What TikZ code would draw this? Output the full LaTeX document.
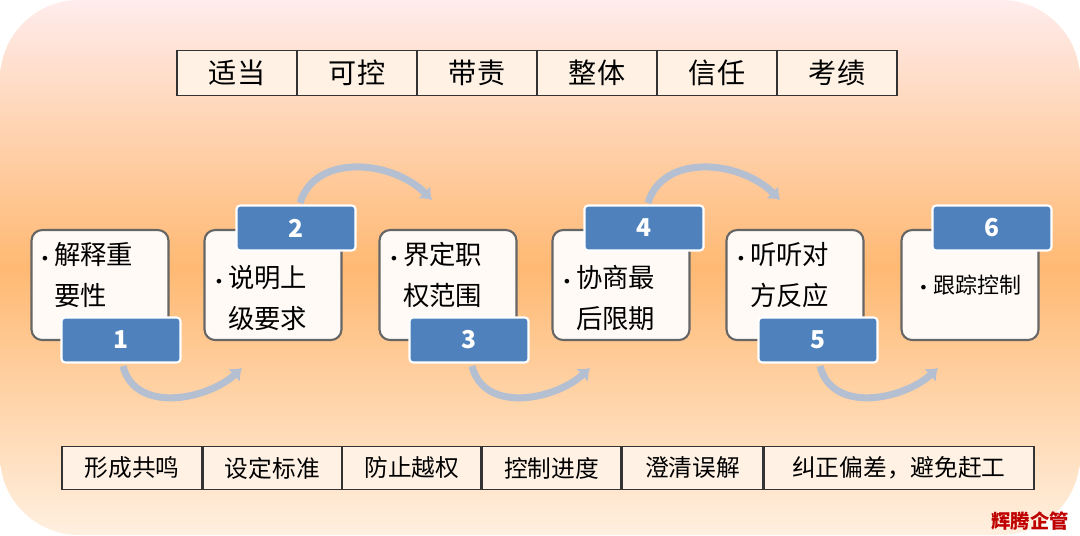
\documentclass[tikz,border=0pt]{standalone}
\usepackage{fontspec}
\setmainfont{Noto Sans CJK SC}
\newfontfamily\dotfont{DejaVu Sans}
\usetikzlibrary{positioning,arrows.meta}
\definecolor{tabblue}{HTML}{4F81BD}
\definecolor{arcgray}{HTML}{B4BFD2}
\newcommand{\bul}{{\dotfont\fontsize{9}{9}\selectfont•}}
\begin{document}
\begin{tikzpicture}[x=0.02cm,y=-0.02cm,
cell/.style={draw=black!80,thick,fill=white!90!orange,minimum height=0.9cm,inner sep=0pt},
card/.style={draw=gray!80!black,very thick,fill=white!96!orange,rounded corners=6pt,minimum width=2.74cm,minimum height=2.2cm,inner sep=0pt},
tab/.style={draw=white,very thick,fill=tabblue,rounded corners=2pt,minimum width=2.38cm,minimum height=0.9cm,text=white,font=\fontsize{14}{14}\selectfont\bfseries},
arc/.style={arcgray,line width=4pt,-{Latex[length=6pt,width=10pt]}}]
\useasboundingbox (0,0) rectangle (1080,535);
% hintergrund
\shade[rounded corners=45pt,top color=pink!30,bottom color=orange!12,middle color=orange!55] (0,0) rectangle (1080,535);

% obere leiste
\foreach \t [count=\i] in {适当,可控,带责,整体,信任,考绩}
  \node[cell,minimum width=2.4cm,font=\fontsize{16}{16}\selectfont] (top\i) at (177+120*\i-60,73) {\t};

% untere leiste
\node[cell,minimum width=2.8cm,minimum height=0.86cm,font=\fontsize{13.5}{14}\selectfont] (bot1) at (132,468) {形成共鸣};
\node[cell,minimum width=2.76cm,minimum height=0.86cm,font=\fontsize{13.5}{14}\selectfont,right=0pt of bot1] (bot2) {设定标准};
\node[cell,minimum width=2.76cm,minimum height=0.86cm,font=\fontsize{13.5}{14}\selectfont,right=0pt of bot2] (bot3) {防止越权};
\node[cell,minimum width=2.78cm,minimum height=0.86cm,font=\fontsize{13.5}{14}\selectfont,right=0pt of bot3] (bot4) {控制进度};
\node[cell,minimum width=2.8cm,minimum height=0.86cm,font=\fontsize{13.5}{14}\selectfont,right=0pt of bot4] (bot5) {澄清误解};
\node[cell,minimum width=5.4cm,minimum height=0.86cm,font=\fontsize{13.5}{14}\selectfont,right=0pt of bot5] (bot6) {纠正偏差，避免赶工};

% schritte
\foreach \x in {100,273,448,621,795}
  \node[card] (step\x) at (\x,285) {};
\foreach \x/\y/\a/\b [count=\i] in {40/277/解释重/要性,214/300/说明上/级要求,389/277/界定职/权范围,562/300/协商最/后限期,736/277/听听对/方反应}
  \node[font=\fontsize{15}{23}\selectfont,inner sep=0pt,anchor=west] (txt\i) at (\x,\y)
    {\begin{tabular}{@{}l@{\,}l@{}}\bul&\a\\&\b\end{tabular}};
\node[card,font=\fontsize{12.5}{14}\selectfont] (step6) at (970,285) {\bul\ 跟踪控制};

\node[tab] (tab1) at (121,340) {1};
\node[tab] (tab2) at (296,228) {2};
\node[tab] (tab3) at (469,340) {3};
\node[tab] (tab4) at (644,228) {4};
\node[tab] (tab5) at (818,340) {5};
\node[tab] (tab6) at (992,228) {6};

% boegen
\coordinate (a1) at (123,366); \coordinate (b1) at (242,368);
\coordinate (a2) at (300,203); \coordinate (b2) at (432,200);
\coordinate (a3) at (472,366); \coordinate (b3) at (590,368);
\coordinate (a4) at (648,203); \coordinate (b4) at (780,200);
\coordinate (a5) at (820,366); \coordinate (b5) at (938,368);
\draw[arc] (a1) .. controls +(12,48) and +(-35,32) .. (b1);
\draw[arc] (a2) .. controls +(15,-50) and +(-40,-40) .. (b2);
\draw[arc] (a3) .. controls +(12,48) and +(-35,32) .. (b3);
\draw[arc] (a4) .. controls +(15,-50) and +(-40,-40) .. (b4);
\draw[arc] (a5) .. controls +(12,48) and +(-35,32) .. (b5);

\node[text=red!75!black,font=\fontsize{11}{11}\selectfont\bfseries] (mark) at (1030,521) {辉腾企管};
\end{tikzpicture}
\end{document}
